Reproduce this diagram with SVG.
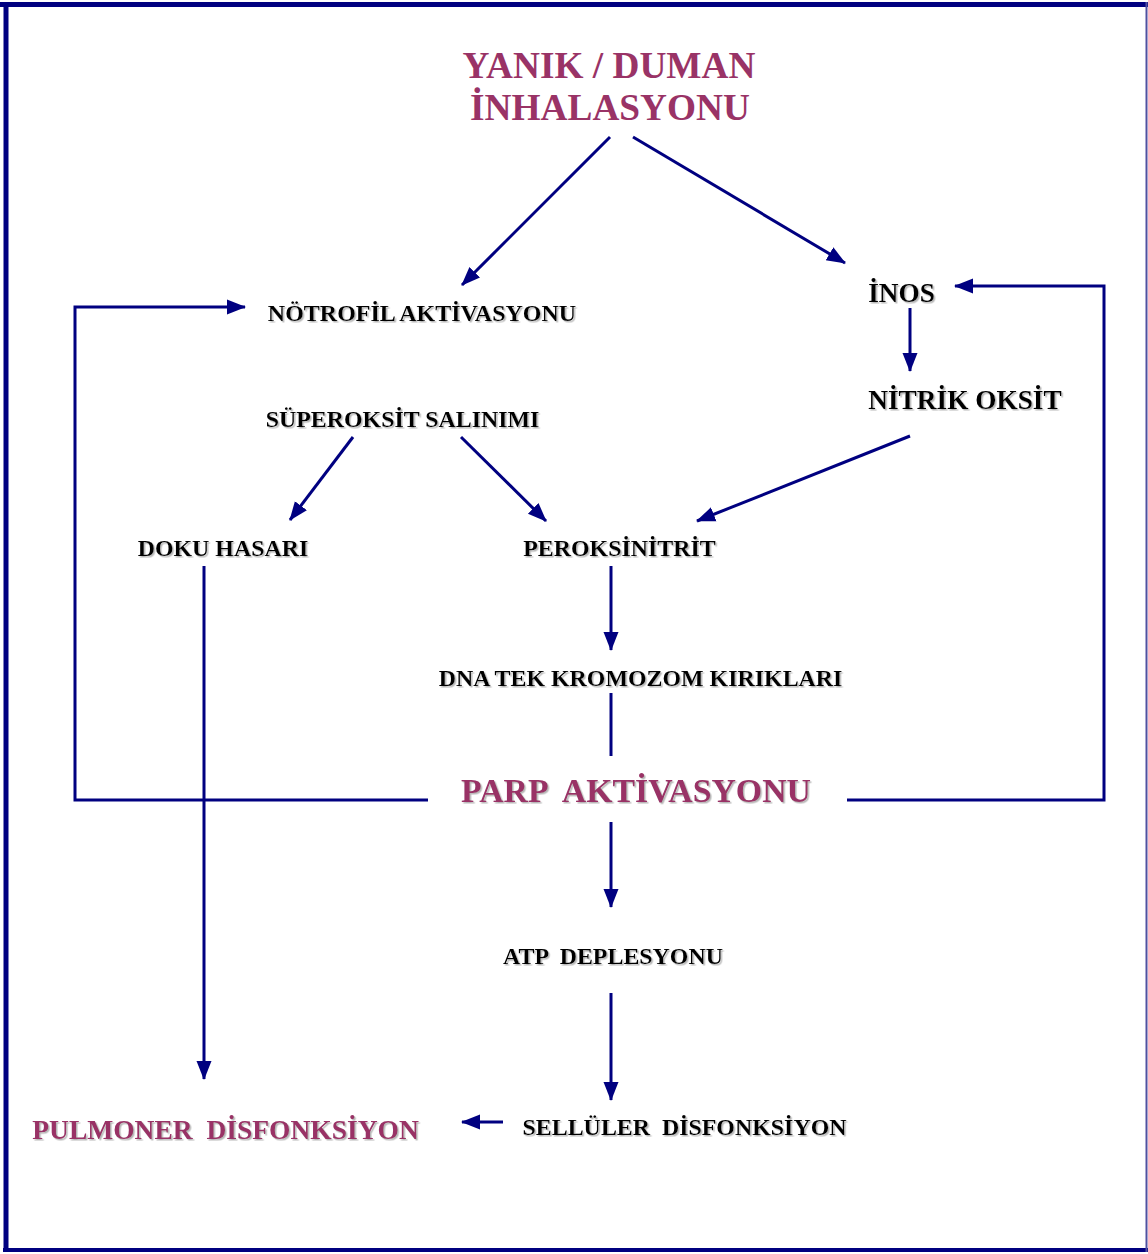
<svg xmlns="http://www.w3.org/2000/svg" width="1148" height="1254" viewBox="0 0 1148 1254">
<style>
.t{font-family:"Liberation Serif","Times New Roman",serif;font-weight:bold;text-anchor:middle;white-space:pre}
.k{fill:#000}
.m{fill:#993366}
.c line,.c polyline{stroke:#000080;stroke-width:3;fill:none}
</style>
<defs>
<filter id="sh" x="-5%" y="-20%" width="110%" height="140%">
<feDropShadow dx="1.5" dy="1.5" stdDeviation="0.6" flood-color="#999" flood-opacity="0.7"/>
</filter>
<marker id="ah" markerUnits="userSpaceOnUse" markerWidth="20" markerHeight="18" viewBox="0 0 20 18" refX="18" refY="9" orient="auto">
<path d="M0,1.5 L19,9 L0,16.5 Z" fill="#000080"/>
</marker>
</defs>
<rect width="1148" height="1254" fill="#fff"/>
<g id="border" stroke="#000080" fill="none">
<line x1="0" y1="4.5" x2="1148" y2="4.5" stroke-width="5"/>
<line x1="6" y1="2" x2="6" y2="1252" stroke-width="5"/>
<line x1="3" y1="1250" x2="1148" y2="1250" stroke-width="4"/>
<line x1="1146.5" y1="2" x2="1146.5" y2="1252" stroke-width="2" stroke="#5050a0"/>
</g>
<g class="c" id="connectors">
<line x1="610" y1="137" x2="462" y2="285" marker-end="url(#ah)"/>
<line x1="633" y1="137" x2="845" y2="263" marker-end="url(#ah)"/>
<line x1="910" y1="308" x2="910" y2="371" marker-end="url(#ah)"/>
<line x1="910" y1="436" x2="697" y2="521" marker-end="url(#ah)"/>
<line x1="353" y1="437" x2="290" y2="520" marker-end="url(#ah)"/>
<line x1="461" y1="437" x2="546" y2="521" marker-end="url(#ah)"/>
<line x1="611" y1="566" x2="611" y2="650" marker-end="url(#ah)"/>
<line x1="611" y1="693" x2="611" y2="756"/>
<polyline points="428,800 75,800 75,307 245,307" marker-end="url(#ah)"/>
<polyline points="847,800 1104,800 1104,286 955,286" marker-end="url(#ah)"/>
<line x1="611" y1="822" x2="611" y2="907" marker-end="url(#ah)"/>
<line x1="611" y1="993" x2="611" y2="1100" marker-end="url(#ah)"/>
<line x1="503" y1="1122" x2="462" y2="1122" marker-end="url(#ah)"/>
<line x1="204" y1="566" x2="204" y2="1079" marker-end="url(#ah)"/>
</g>
<g id="yanik"><text class="t m" x="609" y="78" font-size="37.3">YANIK / DUMAN</text><text class="t m" x="610" y="120" font-size="37.3">İNHALASYONU</text></g>
<g id="notrofil" filter="url(#sh)"><text class="t k" x="422" y="321" font-size="24">NÖTROFİL AKTİVASYONU</text></g>
<g id="inos" filter="url(#sh)"><text class="t k" x="901.5" y="302" font-size="27.3">İNOS</text></g>
<g id="nitrik" filter="url(#sh)"><text class="t k" x="965" y="409" font-size="27.3">NİTRİK OKSİT</text></g>
<g id="superoksit" filter="url(#sh)"><text class="t k" x="402.5" y="427" font-size="23.9">SÜPEROKSİT SALINIMI</text></g>
<g id="doku" filter="url(#sh)"><text class="t k" x="223" y="556" font-size="23.9">DOKU HASARI</text></g>
<g id="peroksinitrit" filter="url(#sh)"><text class="t k" x="619.5" y="556" font-size="23.9">PEROKSİNİTRİT</text></g>
<g id="dna" filter="url(#sh)"><text class="t k" x="640.5" y="686" font-size="23.9">DNA TEK KROMOZOM KIRIKLARI</text></g>
<g id="parp" filter="url(#sh)"><text class="t m" x="636" y="802" font-size="33.8">PARP  AKTİVASYONU</text></g>
<g id="atp" filter="url(#sh)"><text class="t k" x="613" y="964" font-size="23.9">ATP  DEPLESYONU</text></g>
<g id="selluler" filter="url(#sh)"><text class="t k" x="684.5" y="1135" font-size="23.9">SELLÜLER  DİSFONKSİYON</text></g>
<g id="pulmoner" filter="url(#sh)"><text class="t m" x="225.5" y="1139" font-size="27.5">PULMONER  DİSFONKSİYON</text></g>
</svg>
